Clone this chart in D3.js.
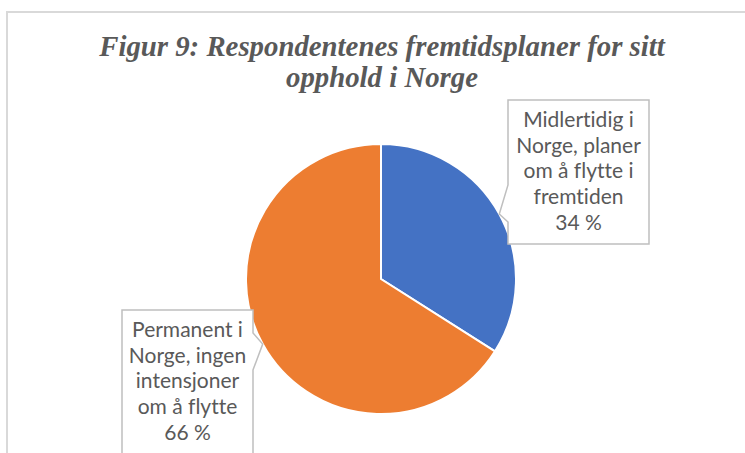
<!DOCTYPE html>
<html>
<head>
<meta charset="utf-8">
<script src="https://cdn.jsdelivr.net/npm/d3@7"></script>
<style>
  body { margin: 0; background: #fff; }
  svg { display: block; }
</style>
</head>
<body>
<svg id="chart" width="745" height="453"></svg>
<script>
// Chart data
var categories = ["Midlertidig i Norge, planer om å flytte i fremtiden",
                  "Permanent i Norge, ingen intensjoner om å flytte"];
var values = [34, 66];
var labelLines = [
  ["Midlertidig i", "Norge, planer", "om å flytte i", "fremtiden"],
  ["Permanent i", "Norge, ingen", "intensjoner", "om å flytte"]
];
var colors = ["#4472C4", "#ED7D31"];
var titleLines = ["Figur 9: Respondentenes fremtidsplaner for sitt", "opphold i Norge"];

var svg = d3.select("#chart");
var textColor = "#595959";

// chart area border (runs past the right and bottom of the crop)
svg.append("rect")
  .attr("x", 7).attr("y", 12)
  .attr("width", 800).attr("height", 500)
  .attr("fill", "none")
  .attr("stroke", "#d9d9d9")
  .attr("stroke-width", 2);

// title - the original font is a narrow, tall bold italic serif,
// so draw it bigger and squeeze it to the width seen in the picture
var titleWidth = 566;
var title = svg.append("text")
  .attr("text-anchor", "middle")
  .attr("font-family", "'Liberation Serif', 'Times New Roman', serif")
  .attr("font-weight", "bold")
  .attr("font-style", "italic")
  .attr("font-size", 29)
  .attr("fill", textColor);
title.selectAll("tspan")
  .data(titleLines)
  .enter().append("tspan")
  .attr("x", 0)
  .attr("y", function(d, i) { return 56 + i * 31; })
  .text(function(d) { return d; });
var firstLine = title.select("tspan").node().getComputedTextLength();
var sx = titleWidth / firstLine;
title.attr("transform", "translate(382,0) scale(" + sx + ",1)");

// pie
var cx = 381, cy = 279, radius = 135;
var pie = d3.pie().sort(null).value(function(d) { return d; });
var arc = d3.arc().innerRadius(0).outerRadius(radius);
var arcs = pie(values);

var g = svg.append("g").attr("transform", "translate(" + cx + "," + cy + ")");
g.selectAll("path")
  .data(arcs)
  .enter().append("path")
  .attr("d", arc)
  .attr("fill", function(d, i) { return colors[i]; })
  .attr("stroke", "#fff")
  .attr("stroke-width", 2);

// callout boxes
var boxes = [
  { x: 508, y: 100, w: 141, h: 144, side: "left", b0: 85, b1: 122 },
  { x: 122, y: 310, w: 131, h: 200, side: "right", b0: 23, b1: 60 }
];

arcs.forEach(function(a, i) {
  var b = boxes[i];
  var mid = (a.startAngle + a.endAngle) / 2;
  var tx = cx + Math.sin(mid) * radius;
  var ty = cy - Math.cos(mid) * radius;
  var pts;
  if (b.side === "left") {
    pts = [[b.x, b.y], [b.x + b.w, b.y], [b.x + b.w, b.y + b.h], [b.x, b.y + b.h],
           [b.x, b.y + b.b1], [tx, ty], [b.x, b.y + b.b0]];
  } else {
    pts = [[b.x, b.y], [b.x + b.w, b.y], [b.x + b.w, b.y + b.b0], [tx, ty],
           [b.x + b.w, b.y + b.b1], [b.x + b.w, b.y + b.h], [b.x, b.y + b.h]];
  }
  svg.append("path")
    .attr("d", d3.line()(pts) + "Z")
    .attr("fill", "#fff")
    .attr("stroke", "#bfbfbf")
    .attr("stroke-width", 1.5);

  var lines = labelLines[i].concat([values[i] + " %"]);
  var t = svg.append("text")
    .attr("text-anchor", "middle")
    .attr("font-family", "Lato, 'Open Sans', sans-serif")
    .attr("font-size", 21)
    .style("font-variant-ligatures", "none")
    .attr("fill", textColor);
  t.selectAll("tspan")
    .data(lines)
    .enter().append("tspan")
    .attr("x", b.x + b.w / 2)
    .attr("y", function(d, j) { return b.y + 27 + j * 25.7; })
    .text(function(d) { return d; });
});
</script>
</body>
</html>
